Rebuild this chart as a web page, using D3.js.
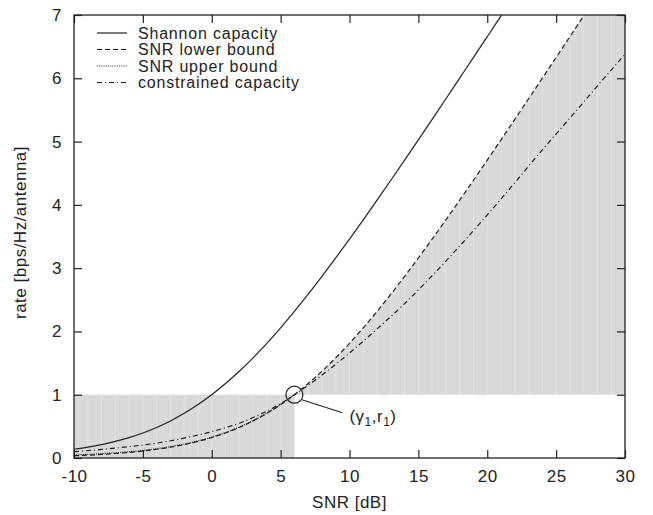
<!DOCTYPE html>
<html>
<head>
<meta charset="utf-8">
<script src="https://cdn.jsdelivr.net/npm/d3@7"></script>
<style>
  body { margin: 0; background: #fff; }
  text { font-family: "Liberation Sans", Arial, sans-serif; fill: #222; letter-spacing: 0.5px; }
</style>
</head>
<body>
<div class="chart"></div>
<script>
var svgWidth = 653;
var svgHeight = 515;

var margin = { top: 15, right: 28, bottom: 57, left: 74 };

var width = svgWidth - margin.left - margin.right;
var height = svgHeight - margin.top - margin.bottom;

var fontSize = "17px";

// values (SNR in dB, rate in bps/Hz/antenna)
var xTicks = [-10, -5, 0, 5, 10, 15, 20, 25, 30];
var yTicks = [0, 1, 2, 3, 4, 5, 6, 7];

var shannonSnr = [-10, -9, -8, -7, -6, -5, -4, -3, -2, -1, 0, 1, 2, 3, 4, 5, 6, 7, 8, 9, 10,
  11, 12, 13, 14, 15, 16, 17, 18, 19, 20, 21, 22];
var shannonRate = [0.138, 0.171, 0.212, 0.263, 0.323, 0.396, 0.483, 0.586, 0.706, 0.844, 1.000,
  1.176, 1.370, 1.583, 1.812, 2.057, 2.316, 2.588, 2.870, 3.161, 3.459,
  3.764, 4.075, 4.389, 4.707, 5.028, 5.351, 5.676, 6.003, 6.330, 6.658, 6.987, 7.318];

var lowerSnr = [-10, -9, -8, -7, -6, -5, -4, -3, -2, -1, 0, 1, 2, 3, 4, 5, 6, 7, 8, 9, 10,
  11, 12, 13, 14, 15, 16, 17, 18, 19, 20, 21, 22, 23, 24, 25, 26, 27, 28];
var lowerRate = [0.036, 0.045, 0.056, 0.071, 0.088, 0.110, 0.138, 0.171, 0.212, 0.263, 0.323,
  0.396, 0.483, 0.586, 0.706, 0.844, 1.000, 1.176, 1.370, 1.583, 1.812,
  2.057, 2.316, 2.588, 2.870, 3.161, 3.459, 3.764, 4.075, 4.389, 4.707,
  5.028, 5.351, 5.676, 6.003, 6.330, 6.658, 6.987, 7.318];

var upperSnr = [-10, -9, -8, -7, -6, -5, -4, -3, -2, -1, 0, 1, 2, 3, 4, 5, 6];
var upperRate = [0.050, 0.058, 0.069, 0.083, 0.100, 0.120, 0.147, 0.180, 0.220, 0.270, 0.330,
  0.402, 0.488, 0.590, 0.709, 0.846, 1.000];

var constrSnr = [-10, -8, -6, -4, -2, 0, 1, 2, 3, 4, 5, 6, 7, 8, 9, 10, 12, 14, 16, 18, 20,
  22, 24, 26, 28, 30];
var constrRate = [0.100, 0.135, 0.180, 0.235, 0.315, 0.415, 0.480, 0.550, 0.640, 0.740, 0.860,
  1.000, 1.150, 1.310, 1.480, 1.660, 2.040, 2.440, 2.880, 3.350, 3.840,
  4.350, 4.870, 5.370, 5.880, 6.380];

var gammaSnr = 6;
var gammaRate = 1;

var legendNames = ["Shannon capacity", "SNR lower bound", "SNR upper bound", "constrained capacity"];
var legendDash = ["none", "5,3", "1,1.2", "5,3,1,3"];

var svg = d3.select(".chart")
  .append("svg")
  .attr("width", svgWidth)
  .attr("height", svgHeight);

var chartGroup = svg.append("g")
  .attr("transform", `translate(${margin.left}, ${margin.top})`);

var x = d3.scaleLinear().domain([-10, 30]).range([0, width]);
var y = d3.scaleLinear().domain([0, 7]).range([height, 0]);

chartGroup.append("clipPath")
  .attr("id", "plotClip")
  .append("rect")
  .attr("width", width)
  .attr("height", height);

var plot = chartGroup.append("g").attr("clip-path", "url(#plotClip)");

// shaded region: rate up to r1 below gamma1, then between r1 and the lower bound
var shadeTop = [];
lowerSnr.forEach(function (s, i) {
  if (s >= gammaSnr) shadeTop.push([s, lowerRate[i]]);
});
shadeTop.push([30, 7.318]);

var shadeArea = d3.area()
  .x(d => x(d[0]))
  .y0(y(gammaRate))
  .y1(d => y(d[1]))
  .curve(d3.curveMonotoneX);

var shade = plot.append("g");
shade.append("clipPath").attr("id", "shadeClip");
shade.select("#shadeClip").append("rect")
  .attr("x", x(-10)).attr("y", y(gammaRate))
  .attr("width", x(gammaSnr) - x(-10)).attr("height", y(0) - y(gammaRate));
shade.select("#shadeClip").append("path").attr("d", shadeArea(shadeTop));

shade.append("rect")
  .attr("x", 0).attr("y", 0).attr("width", width).attr("height", height)
  .attr("fill", "#d9d9d9")
  .attr("clip-path", "url(#shadeClip)");

// faint seams every dB, as in the original raster fill
shade.append("g")
  .attr("clip-path", "url(#shadeClip)")
  .selectAll("line")
  .data(d3.range(-9, 30))
  .enter()
  .append("line")
  .attr("x1", d => x(d)).attr("x2", d => x(d))
  .attr("y1", 0).attr("y2", height)
  .attr("stroke", "#e3e3e3")
  .attr("stroke-width", 1);

var line = d3.line()
  .x(d => x(d[0]))
  .y(d => y(d[1]))
  .curve(d3.curveMonotoneX);

var series = [
  { snr: shannonSnr, rate: shannonRate, dash: legendDash[0] },
  { snr: lowerSnr, rate: lowerRate, dash: legendDash[1] },
  { snr: upperSnr, rate: upperRate, dash: legendDash[2] },
  { snr: constrSnr, rate: constrRate, dash: legendDash[3] }
];

series.forEach(function (s) {
  plot.append("path")
    .attr("d", line(d3.zip(s.snr, s.rate)))
    .attr("fill", "none")
    .attr("stroke", "#222")
    .attr("stroke-width", 1.2)
    .attr("stroke-dasharray", s.dash);
});

// marker at (gamma1, r1)
chartGroup.append("circle")
  .attr("cx", x(gammaSnr))
  .attr("cy", y(gammaRate))
  .attr("r", 8.5)
  .attr("fill", "none")
  .attr("stroke", "#222")
  .attr("stroke-width", 1.2);

chartGroup.append("line")
  .attr("x1", x(gammaSnr) + 7.5).attr("y1", y(gammaRate) + 5)
  .attr("x2", x(gammaSnr) + 48).attr("y2", y(gammaRate) + 18)
  .attr("stroke", "#222")
  .attr("stroke-width", 1.2);

var ann = chartGroup.append("text")
  .attr("x", x(gammaSnr) + 55)
  .attr("y", y(gammaRate) + 27)
  .style("font-size", fontSize);
ann.append("tspan").text("(\u03b3");
ann.append("tspan").attr("dy", 4).style("font-size", "12px").text("1");
ann.append("tspan").attr("dy", -4).text(",r");
ann.append("tspan").attr("dy", 4).style("font-size", "12px").text("1");
ann.append("tspan").attr("dy", -4).text(")");

// frame and inward ticks on all four sides
chartGroup.append("rect")
  .attr("width", width).attr("height", height)
  .attr("fill", "none")
  .attr("stroke", "#222")
  .attr("stroke-width", 1.3);

var tickLen = 8;
var fmt = d => String(d);
var bottomAxis = d3.axisBottom(x).tickValues(xTicks).tickSize(-tickLen).tickPadding(12).tickFormat(fmt);
var topAxis = d3.axisTop(x).tickValues(xTicks).tickSize(-tickLen).tickFormat("");
var leftAxis = d3.axisLeft(y).tickValues(yTicks).tickSize(-tickLen).tickPadding(12).tickFormat(fmt);
var rightAxis = d3.axisRight(y).tickValues(yTicks).tickSize(-tickLen).tickFormat("");

function styleAxis(g) {
  g.attr("font-size", null).attr("font-family", null);
  g.select(".domain").remove();
  g.selectAll(".tick line").attr("stroke", "#222").attr("stroke-width", 1.2);
  g.selectAll(".tick text")
    .style("font-size", fontSize)
    .attr("fill", "#222");
}

chartGroup.append("g").attr("transform", `translate(0, ${height})`).call(bottomAxis).call(styleAxis);
chartGroup.append("g").call(topAxis).call(styleAxis);
chartGroup.append("g").call(leftAxis).call(styleAxis);
chartGroup.append("g").attr("transform", `translate(${width}, 0)`).call(rightAxis).call(styleAxis);

// axis titles
chartGroup.append("text")
  .attr("x", width / 2)
  .attr("y", height + 50)
  .attr("text-anchor", "middle")
  .style("font-size", fontSize)
  .text("SNR [dB]");

chartGroup.append("text")
  .attr("transform", "rotate(-90)")
  .attr("x", -height / 2 + 4)
  .attr("y", -48)
  .attr("text-anchor", "middle")
  .style("font-size", fontSize)
  .text("rate [bps/Hz/antenna]");

// legend
var legend = chartGroup.append("g").attr("transform", "translate(23, 18)");
legendNames.forEach(function (name, i) {
  var row = legend.append("g").attr("transform", `translate(0, ${i * 16.5})`);
  row.append("line")
    .attr("x1", 0).attr("x2", 30)
    .attr("stroke", "#222")
    .attr("stroke-width", 1.2)
    .attr("stroke-dasharray", legendDash[i]);
  row.append("text")
    .attr("x", 41)
    .attr("dy", "0.35em")
    .style("font-size", "16px")
    .style("letter-spacing", "0.8px")
    .text(name);
});
</script>
</body>
</html>
